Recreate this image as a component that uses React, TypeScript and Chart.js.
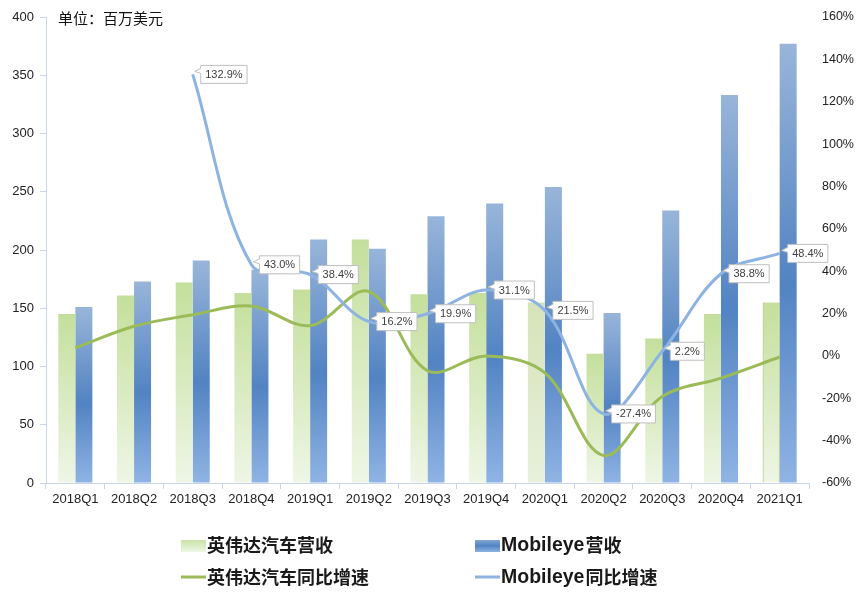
import React, { useEffect, useRef } from "react";
import { Chart, registerables } from "chart.js";

Chart.register(...registerables);

const categories = ["2018Q1", "2018Q2", "2018Q3", "2018Q4", "2019Q1", "2019Q2", "2019Q3", "2019Q4", "2020Q1", "2020Q2", "2020Q3", "2020Q4", "2021Q1"];
const nvidiaRevenue = [145, 161, 172, 163, 166, 209, 162, 163, 155, 111, 124, 145, 155];
const mobileyeRevenue = [151, 173, 191, 183, 209, 201, 229, 240, 254, 146, 234, 333, 377];
const nvidiaGrowth = [3.8, 14, 19.4, 23.6, 14.3, 30.4, -7, 0, -8, -47, -19.2, -10.5, -0.5];
const mobileyeGrowth = [null, null, 132.9, 43.0, 38.4, 16.2, 19.9, 31.1, 21.5, -27.4, 2.2, 38.8, 48.4];
const seriesNames = ["英伟达汽车营收", "Mobileye营收", "英伟达汽车同比增速", "Mobileye同比增速"];
const unitLabel = "单位：百万美元";

const LATIN = "'Liberation Sans', Arial, sans-serif";
const CJK = "'Noto Sans CJK SC', 'Noto Sans', sans-serif";
const AXIS_COLOR = "#c9d6ea";
const GREEN_LINE = "#9bbb59";
const BLUE_LINE = "#8db3e2";

function greenGrad(ctx: CanvasRenderingContext2D, top: number, bottom: number, alt = false) {
  const g = ctx.createLinearGradient(0, top, 0, bottom);
  if (alt) {
    g.addColorStop(0, "#d6e3b9");
    g.addColorStop(1, "#e9f0db");
  } else {
    g.addColorStop(0, "#c4df9c");
    g.addColorStop(1, "#eef6e6");
  }
  return g;
}
function blueGrad(ctx: CanvasRenderingContext2D, top: number, bottom: number) {
  const g = ctx.createLinearGradient(0, top, 0, bottom);
  g.addColorStop(0, "#98b5d9");
  g.addColorStop(0.55, "#5283c2");
  g.addColorStop(1, "#8fb4e4");
  return g;
}

// draws a label where the Latin run uses a wider Latin font and CJK uses the CJK font
function drawMixed(ctx: CanvasRenderingContext2D, text: string, x: number, y: number) {
  const parts = text.match(/[A-Za-z0-9]+|[^A-Za-z0-9]+/g) || [];
  let cx = x;
  parts.forEach((p) => {
    if (/^[A-Za-z0-9]+$/.test(p)) {
      ctx.font = `bold 19.5px ${LATIN}`;
      ctx.fillText(p, cx, y + 0.5);
    } else {
      ctx.font = `bold 18px ${CJK}`;
      ctx.fillText(p, cx, y);
    }
    cx += ctx.measureText(p).width + (/^[A-Za-z0-9]+$/.test(p) ? 1 : 0);
  });
}

const overlayPlugin = {
  id: "overlay",
  afterDatasetsDraw(chart: any) {
    const ctx: CanvasRenderingContext2D = chart.ctx;
    const meta = chart.getDatasetMeta(3);
    ctx.save();
    ctx.font = `11px ${LATIN}`;
    meta.data.forEach((pt: any, i: number) => {
      const v = mobileyeGrowth[i];
      if (v === null || v === undefined) return;
      const text = v.toFixed(1) + "%";
      const tw = ctx.measureText(text).width;
      const bx = pt.x + 8;
      const bh = 18;
      const by = pt.y - bh / 2;
      const bw = tw + 9;
      ctx.beginPath();
      ctx.moveTo(bx, by);
      ctx.lineTo(bx + bw, by);
      ctx.lineTo(bx + bw, by + bh);
      ctx.lineTo(bx, by + bh);
      ctx.lineTo(bx, by + 8);
      ctx.lineTo(pt.x + 2, pt.y - 3);
      ctx.lineTo(bx, by + 3);
      ctx.closePath();
      ctx.fillStyle = "#ffffff";
      ctx.fill();
      ctx.strokeStyle = "#bfbfbf";
      ctx.lineWidth = 1;
      ctx.stroke();
      ctx.fillStyle = "#404040";
      ctx.textBaseline = "middle";
      ctx.textAlign = "left";
      ctx.fillText(text, bx + 4.5, pt.y + 0.5);
    });
    ctx.restore();
  },
  afterDraw(chart: any) {
    const ctx: CanvasRenderingContext2D = chart.ctx;
    ctx.save();
    ctx.fillStyle = "#111";
    ctx.font = `15px ${CJK}`;
    ctx.textBaseline = "middle";
    ctx.textAlign = "left";
    ctx.fillText(unitLabel, 58, 18);
    const rows = [545, 577];
    const cols = [181, 475];
    let g = ctx.createLinearGradient(0, rows[0] - 7, 0, rows[0] + 7);
    g.addColorStop(0, "#c4df9c");
    g.addColorStop(1, "#eef6e6");
    ctx.fillStyle = g;
    ctx.fillRect(cols[0], rows[0] - 5, 25, 12);
    g = ctx.createLinearGradient(0, rows[0] - 7, 0, rows[0] + 7);
    g.addColorStop(0, "#98b5d9");
    g.addColorStop(0.55, "#5283c2");
    g.addColorStop(1, "#8fb4e4");
    ctx.fillStyle = g;
    ctx.fillRect(cols[1], rows[0] - 5, 25, 12);
    ctx.fillStyle = GREEN_LINE;
    ctx.fillRect(cols[0], rows[1] - 1.5, 25, 3);
    ctx.fillStyle = BLUE_LINE;
    ctx.fillRect(cols[1], rows[1] - 1.5, 25, 3);
    ctx.fillStyle = "#1a1a1a";
    drawMixed(ctx, seriesNames[0], cols[0] + 26, rows[0]);
    drawMixed(ctx, seriesNames[1], cols[1] + 26, rows[0]);
    drawMixed(ctx, seriesNames[2], cols[0] + 26, rows[1]);
    drawMixed(ctx, seriesNames[3], cols[1] + 26, rows[1]);
    ctx.restore();
  },
};

export default function App() {
  const ref = useRef<HTMLCanvasElement>(null);
  useEffect(() => {
    if (!ref.current) return;
    const chart = new Chart(ref.current, {
      type: "bar",
      data: {
        labels: categories,
        datasets: [
          {
            type: "bar",
            label: seriesNames[0],
            data: nvidiaRevenue,
            yAxisID: "y",
            order: 2,
            backgroundColor: (c: any) => {
              const ch = c.chart;
              if (!ch.chartArea || c.raw === undefined) return "#c4df9c";
              const y = ch.scales.y;
              return greenGrad(ch.ctx, y.getPixelForValue(c.raw), y.getPixelForValue(0), c.dataIndex === 8);
            },
            borderColor: (c: any) => (c.dataIndex === 12 ? GREEN_LINE : "rgba(0,0,0,0)"),
            borderWidth: (c: any) => (c.dataIndex === 12 ? 1 : 0),
            categoryPercentage: 0.58,
            barPercentage: 1,
          } as any,
          {
            type: "bar",
            label: seriesNames[1],
            data: mobileyeRevenue,
            yAxisID: "y",
            order: 2,
            backgroundColor: (c: any) => {
              const ch = c.chart;
              if (!ch.chartArea || c.raw === undefined) return "#5283c2";
              const y = ch.scales.y;
              return blueGrad(ch.ctx, y.getPixelForValue(c.raw), y.getPixelForValue(0));
            },
            borderWidth: 0,
            categoryPercentage: 0.58,
            barPercentage: 1,
          } as any,
          {
            type: "line",
            label: seriesNames[2],
            data: nvidiaGrowth,
            yAxisID: "y1",
            order: 1,
            borderColor: GREEN_LINE,
            borderWidth: 3,
            pointRadius: 0,
            tension: 0.35,
            fill: false,
          } as any,
          {
            type: "line",
            label: seriesNames[3],
            data: mobileyeGrowth,
            yAxisID: "y1",
            order: 0,
            borderColor: BLUE_LINE,
            borderWidth: 3,
            pointRadius: 0,
            tension: 0.35,
            fill: false,
            spanGaps: false,
          } as any,
        ],
      },
      options: {
        responsive: false,
        animation: false,
        devicePixelRatio: 1,
        layout: { padding: { top: 17, bottom: 80, left: 0, right: 0 } },
        plugins: { legend: { display: false }, tooltip: { enabled: false } },
        scales: {
          x: {
            grid: {
              display: true,
              drawOnChartArea: false,
              drawTicks: true,
              tickLength: 6,
              color: AXIS_COLOR,
              offset: true,
            },
            border: { display: true, color: AXIS_COLOR, dash: [4, 3] },
            ticks: { color: "#222", font: { family: LATIN, size: 13 }, padding: 3, maxRotation: 0, autoSkip: false },
            afterFit: (s: any) => {
              s.height = 30;
            },
          },
          y: {
            position: "left",
            min: 0,
            max: 400,
            ticks: { stepSize: 50, color: "#222", font: { family: LATIN, size: 13 }, padding: 6 },
            grid: { display: true, drawOnChartArea: false, drawTicks: true, tickLength: 6, color: AXIS_COLOR },
            border: { display: true, color: AXIS_COLOR, dash: [4, 3] },
            afterFit: (s: any) => {
              s.width = 46;
            },
          },
          y1: {
            position: "right",
            min: -60,
            max: 160,
            ticks: {
              stepSize: 20,
              color: "#222",
              font: { family: LATIN, size: 12.5 },
              padding: 5,
              callback: (v: any) => v + "%",
            },
            grid: { display: false },
            border: { display: false },
            afterFit: (s: any) => {
              s.width = 49;
            },
          },
        },
      } as any,
      plugins: [overlayPlugin],
    });
    return () => chart.destroy();
  }, []);
  return (
    <div style={{ position: "fixed", left: 0, top: 0, width: 858, height: 593, background: "#fff" }}>
      <canvas ref={ref} width={858} height={593} style={{ display: "block" }} />
    </div>
  );
}
